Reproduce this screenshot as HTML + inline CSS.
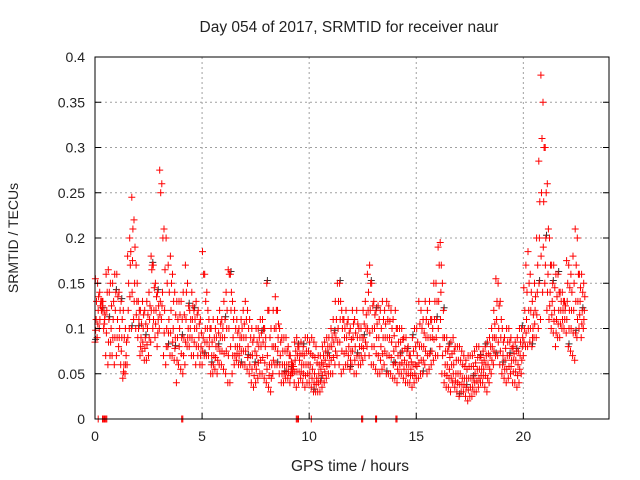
<!DOCTYPE html>
<html><head><meta charset="utf-8"><style>
html,body{margin:0;padding:0;background:#fff;width:640px;height:480px;overflow:hidden}
text{font-family:"Liberation Sans",sans-serif;fill:#222}
</style></head><body>
<svg id="chart" width="640" height="480" xmlns="http://www.w3.org/2000/svg">
<text x="349" y="32" font-size="15.5" text-anchor="middle">Day 054 of 2017, SRMTID for receiver naur</text>
<text x="0" y="0" font-size="14" text-anchor="middle" transform="translate(18,238) rotate(-90)">SRMTID / TECUs</text>
<text x="350" y="471" font-size="15.5" text-anchor="middle">GPS time / hours</text>
<g id="grid"></g><g id="marks"></g><g id="axes"></g>
</svg>
<script>
const xTicks=[0,5,10,15,20];
const yTicks=[0,0.05,0.1,0.15,0.2,0.25,0.3,0.35,0.4];
const yTickLabels=["0","0.05","0.1","0.15","0.2","0.25","0.3","0.35","0.4"];
const hiVals=[.155,.15,.14,.13,.12,.16,.165,.15,.15,.16,.16,.14,.13,.12,.10,.18,.20,.245,.22,.17,.13,.12,.13,.12,.13,.14,.18,.17,.15,.14,.275,.26,.21,.20,.17,.18,.16,.14,.13,.13,.13,.14,.17,.15,.12,.14,.12,.13,.12,.11,.185,.16,.14,.11,.10,.11,.10,.11,.12,.11,.13,.14,.165,.16,.13,.12,.11,.10,.11,.12,.13,.12,.11,.10,.09,.10,.10,.11,.11,.10,.15,.12,.10,.12,.135,.12,.10,.09,.09,.09,.08,.07,.06,.085,.09,.08,.085,.08,.09,.09,.085,.09,.085,.08,.07,.07,.08,.085,.09,.09,.10,.11,.13,.15,.15,.12,.11,.12,.11,.10,.12,.11,.12,.10,.10,.12,.13,.16,.17,.15,.13,.12,.125,.12,.13,.12,.13,.125,.12,.11,.12,.10,.10,.10,.09,.09,.08,.07,.09,.10,.10,.13,.12,.11,.13,.12,.13,.11,.15,.15,.19,.195,.15,.09,.09,.08,.085,.09,.08,.08,.08,.075,.07,.065,.07,.07,.07,.075,.08,.08,.07,.075,.08,.085,.09,.10,.12,.155,.15,.13,.10,.09,.10,.10,.09,.08,.085,.09,.10,.10,.145,.17,.185,.16,.13,.15,.20,.285,.38,.35,.30,.26,.20,.17,.17,.16,.16,.14,.14,.13,.175,.17,.16,.18,.21,.20,.16,.16,.15];
const upperVals=[.13,.135,.13,.13,.115,.14,.14,.125,.13,.14,.135,.12,.11,.09,.085,.15,.185,.21,.19,.15,.12,.105,.115,.105,.115,.125,.17,.145,.135,.125,.25,.2,.165,.15,.14,.15,.13,.115,.11,.115,.11,.115,.14,.125,.11,.125,.11,.115,.105,.095,.16,.13,.12,.1,.085,.09,.09,.095,.105,.1,.11,.12,.16,.14,.11,.1,.095,.09,.1,.105,.11,.1,.09,.085,.075,.085,.09,.095,.1,.09,.12,.09,.08,.1,.12,.105,.085,.075,.075,.075,.07,.063,.058,.075,.08,.072,.072,.07,.075,.075,.072,.07,.068,.062,.06,.062,.07,.075,.08,.08,.09,.095,.11,.13,.13,.11,.1,.105,.095,.088,.105,.095,.105,.09,.09,.105,.115,.14,.15,.125,.115,.105,.11,.1,.11,.105,.11,.108,.1,.092,.1,.085,.085,.088,.078,.075,.07,.063,.075,.08,.085,.105,.1,.095,.11,.105,.11,.1,.13,.13,.17,.17,.12,.075,.075,.068,.072,.075,.065,.065,.065,.06,.058,.055,.058,.058,.058,.062,.068,.068,.062,.065,.07,.072,.08,.09,.105,.13,.125,.11,.085,.078,.085,.085,.078,.072,.075,.075,.085,.09,.12,.14,.15,.14,.115,.135,.17,.24,.31,.3,.25,.21,.17,.15,.145,.135,.14,.13,.13,.125,.15,.145,.14,.15,.17,.16,.145,.14,.135];
const midVals=[.11,.12,.125,.125,.11,.12,.11,.10,.11,.12,.11,.10,.09,.06,.07,.12,.17,.175,.15,.13,.11,.09,.10,.09,.10,.11,.165,.12,.12,.11,.13,.14,.12,.10,.11,.12,.10,.09,.09,.10,.09,.09,.11,.10,.10,.11,.10,.10,.09,.08,.09,.10,.10,.09,.07,.07,.08,.08,.09,.09,.09,.10,.10,.12,.09,.08,.08,.08,.09,.09,.09,.08,.07,.07,.06,.07,.08,.08,.085,.08,.07,.06,.06,.08,.10,.09,.07,.06,.06,.06,.06,.055,.055,.065,.07,.065,.06,.06,.06,.06,.06,.055,.05,.045,.05,.055,.06,.065,.07,.07,.08,.085,.09,.10,.11,.10,.09,.09,.08,.075,.09,.08,.09,.08,.08,.09,.10,.12,.12,.10,.10,.09,.09,.08,.09,.09,.09,.09,.085,.075,.08,.07,.07,.075,.065,.06,.06,.055,.06,.06,.07,.08,.08,.08,.09,.09,.09,.09,.11,.11,.13,.14,.09,.06,.06,.055,.06,.06,.05,.05,.05,.045,.045,.045,.045,.045,.045,.05,.055,.055,.055,.055,.06,.06,.07,.08,.09,.11,.10,.09,.07,.065,.07,.07,.065,.065,.065,.06,.07,.08,.10,.11,.12,.12,.10,.12,.14,.20,.25,.24,.20,.16,.14,.13,.12,.11,.12,.12,.12,.12,.13,.12,.12,.12,.13,.13,.13,.12,.12];
const lowerVals=[.098,.105,.11,.12,.105,.095,.085,.085,.09,.09,.09,.09,.075,.052,.06,.09,.135,.14,.13,.115,.1,.08,.085,.078,.082,.09,.12,.11,.105,.095,.115,.125,.095,.08,.095,.095,.085,.078,.065,.08,.072,.07,.085,.09,.09,.09,.085,.08,.08,.07,.075,.085,.085,.08,.06,.06,.068,.065,.075,.075,.072,.075,.07,.08,.07,.07,.072,.07,.075,.075,.075,.068,.06,.055,.048,.055,.062,.065,.068,.062,.055,.048,.045,.065,.08,.075,.06,.05,.05,.052,.052,.048,.052,.052,.052,.052,.052,.05,.048,.05,.05,.045,.04,.038,.04,.042,.048,.052,.058,.06,.065,.068,.075,.085,.085,.075,.072,.075,.07,.065,.075,.065,.07,.07,.07,.078,.085,.1,.095,.08,.08,.072,.07,.065,.072,.075,.07,.07,.068,.06,.062,.055,.06,.062,.055,.05,.05,.048,.048,.05,.058,.062,.065,.065,.075,.07,.072,.075,.088,.09,.1,.11,.07,.05,.048,.045,.045,.05,.042,.04,.038,.038,.038,.035,.032,.035,.035,.04,.042,.045,.048,.048,.048,.045,.055,.065,.075,.09,.085,.075,.06,.055,.055,.058,.058,.052,.052,.048,.055,.065,.085,.095,.1,.1,.09,.105,.115,.15,.18,.19,.17,.14,.125,.115,.108,.095,.105,.105,.11,.11,.11,.1,.1,.095,.095,.11,.115,.105,.11];
const loVals=[.085,.09,.10,.12,.10,.07,.06,.07,.07,.06,.07,.08,.06,.045,.05,.06,.10,.10,.11,.10,.09,.07,.075,.065,.065,.07,.085,.10,.09,.08,.10,.11,.07,.06,.08,.07,.07,.065,.04,.06,.055,.05,.06,.08,.08,.07,.07,.06,.07,.06,.06,.07,.07,.07,.05,.05,.055,.05,.06,.06,.055,.05,.04,.04,.05,.06,.065,.06,.06,.06,.06,.055,.05,.04,.035,.04,.045,.05,.05,.045,.04,.035,.03,.05,.06,.06,.05,.04,.04,.045,.045,.04,.05,.04,.035,.04,.045,.04,.035,.04,.04,.035,.03,.03,.03,.03,.035,.04,.045,.05,.05,.05,.06,.07,.06,.05,.055,.06,.06,.055,.06,.05,.05,.06,.06,.065,.07,.08,.07,.06,.06,.055,.05,.05,.055,.06,.05,.05,.05,.045,.045,.04,.05,.05,.045,.04,.04,.04,.035,.04,.045,.045,.05,.05,.06,.05,.055,.06,.065,.07,.07,.08,.05,.04,.035,.035,.03,.04,.035,.03,.025,.03,.03,.025,.02,.025,.025,.03,.03,.035,.04,.04,.035,.03,.04,.05,.06,.07,.07,.06,.05,.045,.04,.045,.05,.04,.04,.035,.04,.05,.07,.08,.08,.085,.08,.09,.09,.10,.11,.14,.15,.12,.11,.10,.095,.08,.09,.09,.10,.10,.095,.08,.075,.07,.065,.09,.10,.09,.10];
const zeroTimes=[0.15,0.35,0.4,0.45,0.5,0.55,4.05,4.1,9.4,9.45,9.5,10.1,12.45,12.5,13.1,13.15,14.05,14.1];
const sampleStep=0.1;
const X0=95,X1=609,Y0=419,Y1=57;
function xs(t){return X0+(t/24)*(X1-X0);}
function ys(v){return Y0-(v/0.4)*(Y0-Y1);}
const NS="http://www.w3.org/2000/svg";
const grid=document.getElementById('grid'),marks=document.getElementById('marks'),axes=document.getElementById('axes');
function mk(tag,attrs,parent){const e=document.createElementNS(NS,tag);for(const k in attrs)e.setAttribute(k,attrs[k]);parent.appendChild(e);return e;}
xTicks.forEach(t=>{
  if(t>0){const g=mk('line',{x1:xs(t),x2:xs(t),y1:Y0,y2:Y1,stroke:'#a0a0a0','stroke-dasharray':'2,3'},grid);
  
  }
  const tk=mk('line',{x1:xs(t),x2:xs(t),y1:Y0,y2:Y0-6,stroke:'#000'},axes);
  
  
  const lb=mk('text',{x:xs(t),y:Y0+22,'font-size':14,'text-anchor':'middle'},axes);lb.textContent=String(t);
  
  
});
yTicks.forEach((v,i)=>{
  if(v>0&&v<0.4){const g=mk('line',{x1:X0,x2:X1,y1:ys(v),y2:ys(v),stroke:'#a0a0a0','stroke-dasharray':'2,3'},grid);
  
  }
  const tk=mk('path',{d:`M${X0},${ys(v)}h6M${X1},${ys(v)}h-6`,stroke:'#000'},axes);
  
  
  const lb=mk('text',{x:X0-10,y:ys(v)+5,'font-size':14,'text-anchor':'end'},axes);lb.textContent=yTickLabels[i];
  
  
});
const frame=mk('rect',{x:X0,y:Y1,width:X1-X0,height:Y0-Y1,fill:'none',stroke:'#000','stroke-width':1},axes);


let d='',dk='';
function plus(t,v){const x=xs(t),y=ys(v);return `M${(x-3.5).toFixed(1)},${y.toFixed(1)}h7M${x.toFixed(1)},${(y-3.5).toFixed(1)}v7`;}
const series=[loVals,lowerVals,midVals,upperVals,hiVals];
const offsets=[0,0.03,0.05,0.07,0.02];
series.forEach((arr,si)=>{
  arr.forEach((v,i)=>{const t=i*sampleStep+offsets[si];d+=plus(t,v);
    if(i%17===si*3)dk+=plus(t+0.03,v+0.003);});
});
zeroTimes.forEach(t=>{d+=plus(t,0);});
const black=mk('path',{d:dk,stroke:'#333','stroke-width':1,fill:'none'},marks);


const red=mk('path',{d:d,stroke:'#ff0000','stroke-width':1,fill:'none'},marks);


</script>
</body></html>
